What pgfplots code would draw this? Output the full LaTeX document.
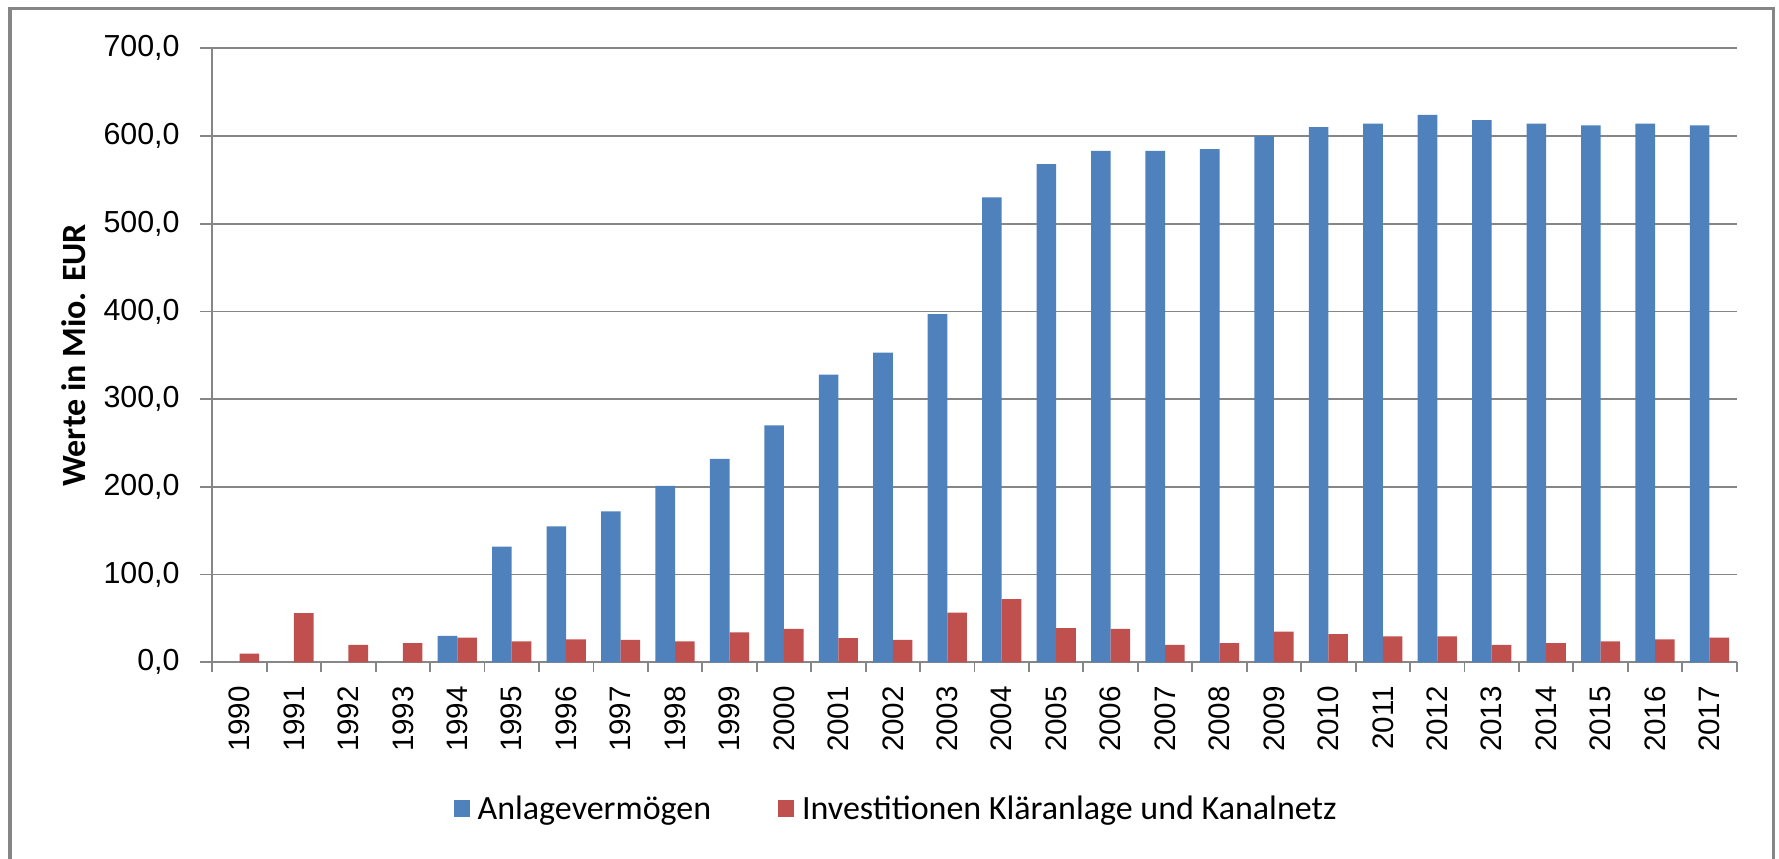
\documentclass[border=0pt]{standalone}
\usepackage{fontspec}
\usepackage{pgfplots}
\pgfplotsset{compat=1.18}
\setmainfont{Carlito}
\newfontfamily\libsans{Liberation Sans}
\definecolor{blueC}{RGB}{79,129,189}
\definecolor{redC}{RGB}{192,80,77}
\definecolor{gridgray}{RGB}{134,134,134}
\definecolor{framegray}{RGB}{134,134,134}
\begin{document}
\begin{tikzpicture}
\useasboundingbox (0,0) rectangle (889.5pt,429pt);
\draw[framegray, line width=1.6pt] (5pt,-5pt) -- (5pt,424.8pt) -- (886.7pt,424.8pt) -- (886.7pt,-5pt);
\begin{axis}[
  at={(106.15pt,97.85pt)}, anchor=south west,
  scale only axis, width=762.2pt, height=307pt,
  ybar=0pt, bar width=9.8pt,
  xmin=-0.5, xmax=27.5, ymin=0, ymax=700,
  axis x line*=bottom, axis y line*=left,
  axis line style={draw=gridgray, line width=0.9pt},
  ytick={0,100,...,700},
  ymajorgrids, grid style={draw=gridgray, line width=0.9pt},
  xtick={0,...,27},
  xticklabels={1990,1991,1992,1993,1994,1995,1996,1997,1998,1999,2000,2001,2002,2003,2004,2005,2006,2007,2008,2009,2010,2011,2012,2013,2014,2015,2016,2017},
  minor xtick={-0.5,0.5,...,27.5},
  tick align=outside,
  major tick length=6pt, minor tick length=5pt,
  major x tick style={draw=none},
  minor x tick style={draw=gridgray, line width=0.9pt},
  major y tick style={draw=gridgray, line width=0.9pt},
  x tick label style={font=\libsans\fontsize{14.8}{17}\selectfont, rotate=90, anchor=east, inner ysep=0pt, inner xsep=5.7pt},
  yticklabel shift=10.15pt,
  y tick label style={font=\libsans\fontsize{15.2}{17}\selectfont, anchor=east, inner sep=0pt},
  yticklabel style={/pgf/number format/.cd, fixed, fixed zerofill, precision=1, use comma, assume math mode=true},
  ylabel={\bfseries Werte in Mio. EUR},
  ylabel style={at={(axis description cs:-0.0907,0.5)}, anchor=center, font=\fontsize{17}{20}\selectfont},
  legend style={at={(0.4492,-0.2389)}, anchor=center, draw=none, legend columns=2,
    /tikz/every even column/.append style={column sep=31.5pt},
    font=\fontsize{17}{20}\selectfont},
  legend cell align=left,
]
\addplot[fill=blueC, draw=none, legend image code/.code={\fill[blueC] (0pt,-4.25pt) rectangle (8pt,4.25pt); \path (10pt,0pt);}] coordinates {
(4,30) (5,132) (6,155) (7,172) (8,201) (9,232) (10,270) (11,328) (12,353) (13,397)
(14,530) (15,568) (16,583) (17,583) (18,585) (19,600) (20,610) (21,614) (22,624)
(23,618) (24,614) (25,612) (26,614) (27,612)};
\addplot[fill=redC, draw=none, legend image code/.code={\fill[redC] (0pt,-4.25pt) rectangle (8pt,4.25pt); \path (10pt,0pt);}] coordinates {
(0,10) (1,56) (2,20) (3,22) (4,28) (5,24) (6,26) (7,25.5) (8,24) (9,34) (10,38)
(11,27.5) (12,25.5) (13,56.5) (14,72) (15,39) (16,38) (17,20) (18,22) (19,35)
(20,32) (21,29.5) (22,29.5) (23,20) (24,22) (25,24) (26,26) (27,28)};
\legend{Anlagevermögen, Investitionen Kläranlage und Kanalnetz}
\end{axis}
\end{tikzpicture}
\end{document}
